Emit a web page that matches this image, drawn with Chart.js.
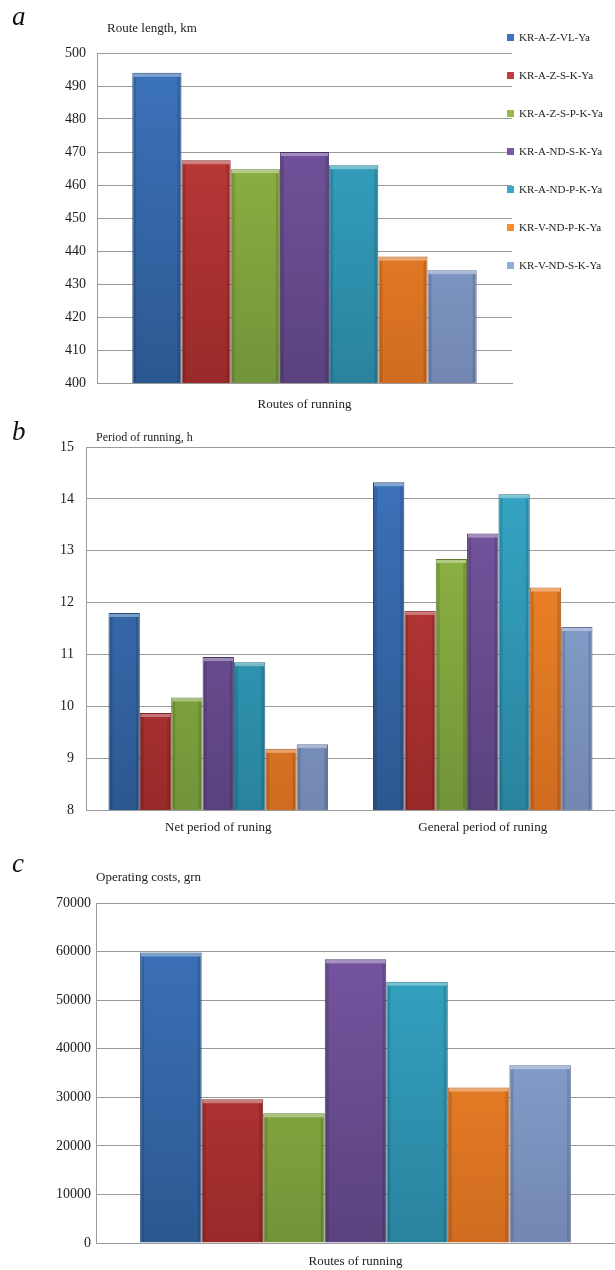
<!DOCTYPE html>
<html lang="en">
<head>
<meta charset="UTF-8">
<title>Routes of running</title>
<style>
  body { margin: 0; background: #fff; font-family: "Liberation Serif", serif; }
  #page { position: relative; width: 615px; height: 1270px; overflow: hidden; }
  .panel { position: absolute; left: 0; width: 615px; }
  .letter { position: absolute; left: 12px; font-style: italic; font-size: 27px; line-height: 27px; color: #111; }
  .ytitle { position: absolute; font-size: 13px; line-height: 15px; color: #222; white-space: nowrap; }
  #legend { position: absolute; left: 507px; top: 30px; font-size: 11px; color: #222; }
  #legend div { height: 38px; line-height: 14px; white-space: nowrap; }
  #legend span { display: inline-block; width: 7px; height: 7px; margin-right: 5px; vertical-align: 0px; }
</style>
</head>
<body>
<div id="page">
  <div class="panel" style="top:0;height:420px"><canvas id="chartA"></canvas></div>
  <div class="panel" style="top:410px;height:430px"><canvas id="chartB"></canvas></div>
  <div class="panel" style="top:840px;height:430px"><canvas id="chartC"></canvas></div>

  <div class="letter" style="top:3px">a</div>
  <div class="letter" style="top:418px">b</div>
  <div class="letter" style="top:850px">c</div>

  <div class="ytitle" style="left:107px;top:20px">Route length, km</div>
  <div class="ytitle" style="left:96px;top:430px;font-size:12px">Period of running, h</div>
  <div class="ytitle" style="left:96px;top:869px">Operating costs, grn</div>

  <div id="legend"></div>
</div>

<script src="https://cdn.jsdelivr.net/npm/chart.js"></script>
<script>
// routes (series)
const routes = ['KR-A-Z-VL-Ya', 'KR-A-Z-S-K-Ya', 'KR-A-Z-S-P-K-Ya', 'KR-A-ND-S-K-Ya',
                'KR-A-ND-P-K-Ya', 'KR-V-ND-P-K-Ya', 'KR-V-ND-S-K-Ya'];

// a - route length, km
const lengthLabels = ['Routes of running'];
const routeLength = [494, 467.5, 464.8, 470, 466, 438.3, 434.2];

// b - period of running, h
const periodLabels = ['Net period of runing', 'General period of runing'];
const netPeriod = [11.8, 9.87, 10.17, 10.95, 10.85, 9.18, 9.27];
const generalPeriod = [14.32, 11.84, 12.84, 13.33, 14.09, 12.29, 11.53];

// c - operating costs, grn
const costLabels = ['Routes of running'];
const operatingCosts = [59800, 29600, 26700, 58400, 53800, 32000, 36600];

const colorsTop = ['#3d74bd', '#c43d3c', '#96bb45', '#7957a5', '#35a9c8', '#f88c2a', '#90addb'];
const colorsBottom = ['#2c5890', '#992a2a', '#72943a', '#5a427e', '#2a839e', '#d06c20', '#7287b2'];
const colorsEdge = ['#25497a', '#7f2222', '#5f7c30', '#4a366a', '#236f86', '#b05a1a', '#5f7299'];

const gridColor = '#9a9a9a';
const serif = '"Liberation Serif", serif';

// html legend for chart a
const legendBox = document.getElementById('legend');
routes.forEach((name, i) => {
    const row = document.createElement('div');
    row.innerHTML = '<span style="background:' + colorsTop[i] + '"></span>' + name;
    legendBox.appendChild(row);
});

function barFill(i) {
    return function (ctx) {
        const area = ctx.chart.chartArea;
        if (!area) return colorsTop[i];
        const g = ctx.chart.ctx.createLinearGradient(0, area.top, 0, area.bottom);
        g.addColorStop(0, colorsTop[i]);
        g.addColorStop(1, colorsBottom[i]);
        return g;
    };
}

// lighter top edge and darker sides, like the 3d bars in the picture
const bevel = {
    id: 'bevel',
    afterDatasetsDraw(chart) {
        const c = chart.ctx;
        const bottom = chart.chartArea.bottom;
        chart.data.datasets.forEach((ds, i) => {
            chart.getDatasetMeta(i).data.forEach(bar => {
                const w = bar.width, left = bar.x - w / 2;
                const h = Math.min(bar.base, bottom) - bar.y;
                c.save();
                c.fillStyle = 'rgba(255,255,255,0.35)';
                c.fillRect(left + 1, bar.y + 1, w - 2, 3);
                c.fillStyle = 'rgba(0,0,0,0.12)';
                c.fillRect(left + 1, bar.y + 4, 3, h - 5);
                c.fillRect(left + w - 4, bar.y + 4, 3, h - 5);
                c.restore();
            });
        });
    }
};

function makeDatasets(valueLists) {
    return routes.map((name, i) => ({
        label: name,
        data: valueLists.map(list => list[i]),
        backgroundColor: barFill(i),
        borderColor: colorsEdge[i],
        borderWidth: 1,
        barPercentage: 1,
        categoryPercentage: 0.83
    }));
}

function makeChart(id, labels, datasets, y, layout) {
    return new Chart(document.getElementById(id), {
        type: 'bar',
        data: { labels: labels, datasets: datasets },
        plugins: [bevel],
        options: {
            responsive: true,
            maintainAspectRatio: false,
            animation: false,
            layout: { padding: layout.padding },
            plugins: { legend: { display: false }, tooltip: { enabled: false } },
            scales: {
                x: {
                    grid: { display: false, drawTicks: false },
                    border: { color: gridColor },
                    ticks: { color: '#222', padding: layout.xPad, font: { family: serif, size: 13 } },
                    afterFit(s) { s.height = layout.xHeight; }
                },
                y: {
                    min: y.min, max: y.max,
                    grid: { color: gridColor, drawTicks: false },
                    border: { color: gridColor },
                    ticks: {
                        stepSize: y.step, color: '#1a1a1a', padding: layout.yPad,
                        font: { family: serif, size: 14 },
                        callback: v => String(v)
                    },
                    afterFit(s) { s.width = layout.yWidth; }
                }
            }
        }
    });
}

makeChart('chartA', lengthLabels, makeDatasets([routeLength]),
    { min: 400, max: 500, step: 10 },
    { padding: { top: 53, right: 103, bottom: 7, left: 0 }, xPad: 14, xHeight: 30, yPad: 11, yWidth: 97 });

makeChart('chartB', periodLabels, makeDatasets([netPeriod, generalPeriod]),
    { min: 8, max: 15, step: 1 },
    { padding: { top: 37, right: 0, bottom: 0, left: 0 }, xPad: 10, xHeight: 30, yPad: 12, yWidth: 86 });

makeChart('chartC', costLabels, makeDatasets([operatingCosts]),
    { min: 0, max: 70000, step: 10000 },
    { padding: { top: 63, right: 0, bottom: 0, left: 0 }, xPad: 11, xHeight: 27, yPad: 5, yWidth: 96 });
</script>
</body>
</html>
